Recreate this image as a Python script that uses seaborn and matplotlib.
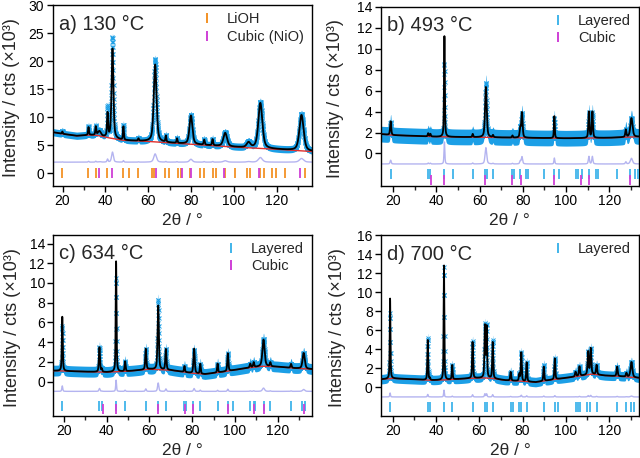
import numpy as np
import matplotlib.pyplot as plt
import seaborn as sns
from matplotlib.lines import Line2D
from matplotlib.ticker import MultipleLocator

# ---------------- a) 130 °C ----------------
a_bg_x = [15.4, 20, 26.6, 33, 36, 42.2, 48.4, 60, 80, 100, 120, 136.4]
a_bg_y = [7.35, 7.05, 6.7, 6.85, 6.8, 6.3, 5.9, 5.7, 5.2, 4.7, 4.3, 3.9]
a_pk_pos = [19.9, 32.1, 35.5, 37.2, 41.0, 43.3, 48.4, 55.4, 63.2, 68.2, 73.4,
            79.9, 86.1, 90.0, 95.9, 106.8, 112.3, 131.5]
a_pk_calc = [0.4, 1.4, 1.5, 0.8, 4.2, 16.0, 2.4, 0.4, 13.8, 1.1, 0.8,
             5.1, 0.9, 1.1, 2.4, 0.9, 8.1, 6.4]
a_pk_obs = [0.5, 1.6, 1.6, 0.9, 5.3, 18.0, 2.7, 0.5, 14.8, 1.2, 0.9,
            5.2, 1.0, 1.2, 2.5, 1.0, 8.3, 6.6]
a_pk_fwhm = [0.5, 0.5, 0.5, 1.5, 0.6, 1.0, 0.5, 0.5, 1.5, 0.5, 0.5,
             1.6, 0.6, 0.6, 2.0, 2.0, 2.2, 2.3]
a_lioh = [19.9, 32.1, 35.5, 40.6, 48.4, 50.8, 55.1, 61.7, 62.8, 67.6, 69.9,
          73.7, 75.2, 79.3, 84.3, 86.1, 90.0, 91.7, 95.6, 100.6, 106.1, 107.5,
          112.3, 113.9, 117.8, 119.5, 124.0, 133.3]
a_cubic = [37.2, 43.3, 63.4, 75.7, 79.9, 95.2, 111.8, 131.0]

# ---------------- b) 493 °C ----------------
b_bg_x = [14.2, 20, 40, 60, 80, 100, 120, 133.8]
b_bg_y = [1.85, 1.75, 1.6, 1.55, 1.5, 1.45, 1.5, 1.6]
b_pk_pos = [18.8, 36.2, 37.2, 43.7, 56.8, 62.9, 66.2, 75.2, 78.8, 79.6,
            94.6, 110.6, 112.2, 127.7, 130.3]
b_pk_calc = [1.3, 0.3, 0.25, 9.6, 0.3, 4.8, 0.2, 0.2, 0.9, 2.4,
             2.1, 2.5, 2.5, 0.7, 1.8]
b_pk_obs = [1.2, 0.3, 0.25, 7.0, 0.3, 5.2, 0.2, 0.2, 0.9, 2.3,
            1.9, 2.4, 2.4, 0.7, 1.8]
b_pk_fwhm = [0.6, 0.5, 0.5, 0.45, 0.5, 0.9, 0.5, 0.5, 0.6, 0.7,
             0.45, 0.6, 0.6, 0.6, 1.2]
b_layered = [18.8, 36.2, 37.2, 43.4, 47.7, 56.8, 62.6, 63.4, 66.2, 74.9, 75.7,
             78.8, 81.4, 82.6, 89.8, 94.6, 96.9, 104.6, 105.7, 107.2, 110.8,
             113.8, 114.9, 123.4, 129.8, 131.8, 133.4]
b_cubic = [37.5, 43.4, 62.6, 75.2, 79.2, 94.6, 106.9, 110.8, 129.5]

# ---------------- c) 634 °C ----------------
c_bg_x = [15.0, 30, 40, 50, 60, 70, 80, 86, 95, 105, 113, 120, 128, 136.1]
c_bg_y = [1.1, 1.0, 0.95, 1.05, 1.25, 1.15, 0.85, 0.75, 1.0, 1.35, 1.55, 1.5, 1.35, 1.25]
c_pk_pos = [19.2, 36.6, 37.7, 44.4, 48.6, 58.3, 64.1, 67.7, 76.4, 80.9, 83.8,
            91.9, 96.7, 107.2, 108.8, 113.4, 116.6, 126.3, 132.2]
c_pk_calc = [5.5, 2.5, 0.3, 11.2, 1.0, 2.1, 6.5, 2.1, 0.6, 2.5, 1.0,
             0.9, 1.8, 0.4, 0.5, 2.7, 0.4, 0.4, 1.6]
c_pk_obs = [4.6, 2.5, 0.3, 9.5, 1.0, 2.1, 7.1, 2.1, 0.6, 2.4, 1.0,
            0.9, 1.8, 0.4, 0.5, 2.8, 0.4, 0.4, 1.6]
c_pk_fwhm = [0.5, 0.6, 0.5, 0.45, 0.5, 0.6, 0.7, 0.6, 0.5, 0.7, 0.5,
             0.5, 0.6, 0.6, 0.6, 1.2, 0.6, 0.6, 1.2]
c_layered = [19.2, 36.6, 37.7, 44.4, 48.6, 58.3, 64.1, 67.7, 76.4, 77.0, 80.6,
             83.8, 91.9, 96.7, 99.1, 107.2, 108.8, 109.5, 113.4, 116.6, 126.3,
             131.4, 133.0]
c_cubic = [38.4, 44.4, 64.1, 76.7, 80.6, 96.7, 109.1, 113.4, 132.2]

# ---------------- d) 700 °C ----------------
d_bg_x = [14.6, 20, 30, 38, 45, 55, 62, 66, 72, 80, 86, 95, 105, 112, 118, 126, 133.8]
d_bg_y = [0.85, 0.95, 0.85, 0.75, 0.8, 0.95, 1.0, 0.95, 0.75, 0.65, 0.55, 0.85,
          1.15, 1.4, 1.25, 1.15, 1.0]
d_pk_pos = [18.8, 36.2, 37.2, 43.7, 47.5, 56.9, 62.6, 63.4, 66.2, 74.5, 78.5,
            79.4, 81.9, 89.8, 94.9, 104.5, 106.3, 110.3, 111.5, 114.2, 123.7,
            128.0, 130.3]
d_pk_calc = [8.4, 4.2, 0.2, 12.0, 1.5, 3.8, 5.4, 5.3, 3.8, 0.9, 0.7,
             3.0, 2.0, 1.5, 2.2, 0.5, 1.0, 2.4, 2.7, 1.0, 1.0,
             0.4, 1.6]
d_pk_obs = [6.9, 4.4, 0.2, 11.8, 1.5, 3.9, 5.5, 5.4, 4.0, 0.9, 0.7,
            3.0, 2.0, 1.7, 2.2, 0.5, 1.0, 2.4, 2.7, 1.0, 1.0,
            0.4, 1.6]
d_pk_fwhm = [0.4, 0.45, 0.4, 0.4, 0.45, 0.5, 0.5, 0.5, 0.5, 0.5, 0.5,
             0.5, 0.5, 0.5, 0.5, 0.6, 0.6, 0.6, 0.6, 0.6, 0.6,
             0.6, 1.0]
d_layered = [18.8, 36.2, 37.2, 43.7, 47.5, 56.9, 62.6, 63.4, 66.2, 74.5, 75.4,
             78.3, 79.2, 82.2, 89.8, 94.9, 96.5, 104.6, 105.4, 106.5, 110.0,
             111.1, 114.5, 123.7, 128.0, 130.3, 131.4]

titles = ['a) 130 °C', 'b) 493 °C', 'c) 634 °C', 'd) 700 °C']

OBS = '#1c9fe6'
CALC = 'black'
BG = '#e0302e'
DIFF = '#b4b4f0'
C_LIOH = '#f39225'
C_CUB = '#cf3fd6'
C_LAY = '#40b4ea'


def pv(x, pos, h, w):
    x = np.asarray(x)[:, None]
    p = np.asarray(pos)[None, :]
    h = np.asarray(h)[None, :]
    g = np.asarray(w)[None, :] / 2
    lor = 1 / (1 + ((x - p) / g) ** 2)
    gau = np.exp(-np.log(2) * ((x - p) / g) ** 2)
    return (h * (0.5 * lor + 0.5 * gau)).sum(axis=1)


sns.set_theme(style='ticks')
plt.rcParams['font.family'] = ['Liberation Sans', 'DejaVu Sans']
plt.rcParams['axes.linewidth'] = 1.0

W, H = 640, 458
fig = plt.figure(figsize=(6.4, 4.58), dpi=100)

# pixel boxes: left, right, top, bottom; ylabel right-edge offset
boxes = [(52.7, 312.0, 5.3, 185.7, 33), (380.7, 639.0, 6.7, 186.0, 36.5),
         (53.3, 312.0, 234.7, 416.0, 32.5), (381.0, 639.0, 235.0, 416.0, 35.5)]

panels = [
    dict(bgx=a_bg_x, bgy=a_bg_y, pos=a_pk_pos, calc=a_pk_calc, obs=a_pk_obs, fw=a_pk_fwhm,
         xlim=(15.4, 136.4), ylim=(-2.2, 30), ystep=5, spread=0.65, doff=2.0, dk=0.1,
         rows=[(a_lioh, C_LIOH, 0.15, 'LiOH'), (a_cubic, C_CUB, 0.15, 'Cubic (NiO)')]),
    dict(bgx=b_bg_x, bgy=b_bg_y, pos=b_pk_pos, calc=b_pk_calc, obs=b_pk_obs, fw=b_pk_fwhm,
         xlim=(14.2, 133.8), ylim=(-3.1, 14), ystep=2, spread=0.75, doff=-1.0, dk=0.3,
         rows=[(b_layered, C_LAY, -2.0, 'Layered'), (b_cubic, C_CUB, -2.5, 'Cubic')]),
    dict(bgx=c_bg_x, bgy=c_bg_y, pos=c_pk_pos, calc=c_pk_calc, obs=c_pk_obs, fw=c_pk_fwhm,
         xlim=(15.0, 136.1), ylim=(-3.5, 14.9), ystep=2, spread=0.55, doff=-1.0, dk=0.12,
         rows=[(c_layered, C_LAY, -2.45, 'Layered'), (c_cubic, C_CUB, -2.8, 'Cubic')]),
    dict(bgx=d_bg_x, bgy=d_bg_y, pos=d_pk_pos, calc=d_pk_calc, obs=d_pk_obs, fw=d_pk_fwhm,
         xlim=(14.6, 133.8), ylim=(-3.0, 16), ystep=2, spread=0.5, doff=-1.0, dk=0.06,
         rows=[(d_layered, C_LAY, -2.07, 'Layered')]),
]

for i, (p, box) in enumerate(zip(panels, boxes)):
    l, r, t, b, yoff = box
    ax = fig.add_axes([l / W, 1 - b / H, (r - l) / W, (b - t) / H])
    wpx, hpx = r - l, b - t

    x = np.arange(p['xlim'][0], p['xlim'][1] + 0.02, 0.02)
    bg = np.interp(x, p['bgx'], p['bgy'])
    obs_pk = pv(x, p['pos'], p['obs'], p['fw'])
    calc = bg + pv(x, p['pos'], p['calc'], p['fw'])
    obs = bg + obs_pk
    diff = p['doff'] + p['dk'] * obs_pk

    ax.fill_between(x, obs - p['spread'], obs + p['spread'], color=OBS, lw=0, zorder=1)
    ax.plot(x[::3], obs[::3], ls='none', marker='x', ms=3.5, mew=0.7, color=OBS, zorder=1)
    sns.lineplot(x=x, y=diff, ax=ax, color=DIFF, lw=1.0, zorder=2)
    sns.lineplot(x=p['bgx'], y=p['bgy'], ax=ax, color=BG, lw=1.0, zorder=3)
    sns.lineplot(x=x, y=calc, ax=ax, color=CALC, lw=1.3, zorder=4)

    handles = []
    for ticks, col, yl, lab in p['rows']:
        ax.plot(ticks, np.full(len(ticks), yl), ls='none', marker='|', ms=6.5,
                mew=1.3, color=col, zorder=5)
        handles.append(Line2D([], [], ls='none', marker='|', ms=7, mew=1.4,
                              color=col, label=lab))

    ax.set_xlim(*p['xlim'])
    ax.set_ylim(*p['ylim'])
    ax.xaxis.set_major_locator(MultipleLocator(20))
    ax.xaxis.set_minor_locator(MultipleLocator(10))
    ax.set_yticks(np.arange(0, p['ylim'][1] + 0.01, p['ystep']))
    ax.tick_params(axis='both', which='major', direction='out', length=4, width=1,
                   labelsize=10, pad=2, colors='black')
    ax.tick_params(axis='x', which='minor', direction='out', length=3, width=1)
    for s in ax.spines.values():
        s.set_color('black')
        s.set_linewidth(1.0)

    ax.set_xlabel('2θ / °', fontsize=12.5, labelpad=0)
    ax.set_ylabel('Intensity / cts (×10³)', fontsize=13, labelpad=0)
    ax.xaxis.set_label_coords(0.5, -27 / hpx)
    ax.yaxis.set_label_coords(-yoff / wpx, 0.49)

    ax.text(6 / wpx, 1 - 19 / hpx, titles[i], transform=ax.transAxes,
            fontsize=14.5, va='center', ha='left')

    ax.legend(handles=handles, loc='upper right', frameon=False, fontsize=10.5,
              bbox_to_anchor=(1 - 8 / wpx, 1 - 7 / hpx), borderpad=0, borderaxespad=0,
              handlelength=1.0, handletextpad=0.9, labelspacing=0.25)

fig.savefig('out.png', dpi=100)
